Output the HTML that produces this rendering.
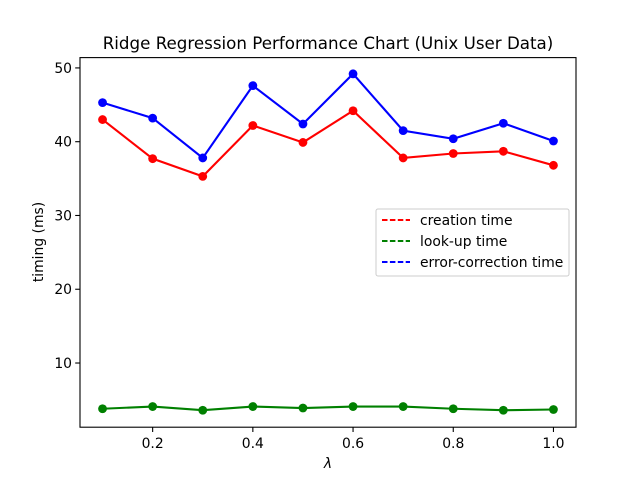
<!DOCTYPE html>
<html><head><meta charset="utf-8"><style>
body{margin:0;background:#fff}
svg{display:block;font-family:"DejaVu Sans","Liberation Sans",sans-serif}
</style></head><body>
<svg id="chart" width="640" height="480" viewBox="0 0 640 480">
<rect width="640" height="480" fill="#fff"/>
<text x="328" y="49" text-anchor="middle" font-size="16.7">Ridge Regression Performance Chart (Unix User Data)</text>
<g id="marks"></g>
<rect x="80" y="57.6" width="496" height="369.6" fill="none" stroke="#000" stroke-width="1.1"/>
<g id="xticks"></g><g id="yticks"></g>
<text x="328" y="468" text-anchor="middle" font-size="13.9" font-style="italic">λ</text>
<text transform="translate(43,242) rotate(-90)" text-anchor="middle" font-size="13.9">timing (ms)</text>
<g>
<rect x="376" y="209" width="193" height="67" rx="2" fill="#fff" fill-opacity="0.8" stroke="#ccc" stroke-width="1"/>
<g><line x1="382" y1="220" x2="410" y2="220" stroke="red" stroke-width="2" stroke-dasharray="5.5,2.4"/><text x="420" y="225" font-size="13.9">creation time</text></g>
<g><line x1="382" y1="241" x2="410" y2="241" stroke="green" stroke-width="2" stroke-dasharray="5.5,2.4"/><text x="420" y="246" font-size="13.9">look-up time</text></g>
<g><line x1="382" y1="262" x2="410" y2="262" stroke="blue" stroke-width="2" stroke-dasharray="5.5,2.4"/><text x="420" y="267" font-size="13.9">error-correction time</text></g>
</g>
</svg>
<script>
const lambdas=[0.1,0.2,0.3,0.4,0.5,0.6,0.7,0.8,0.9,1.0];
const creation=[43.0,37.7,35.3,42.2,39.9,44.2,37.8,38.4,38.7,36.8];
const lookup=[3.8,4.1,3.6,4.1,3.9,4.1,4.1,3.8,3.6,3.7];
const errorCorr=[45.3,43.2,37.8,47.6,42.4,49.2,41.5,40.4,42.5,40.1];
const xTicks=[0.2,0.4,0.6,0.8,1.0];
const xTickLabels=["0.2","0.4","0.6","0.8","1.0"];
const yTicks=[10,20,30,40,50];
const yTickLabels=["10","20","30","40","50"];
const X0=0.055,X1=1.045,Y0=1.3,Y1=51.4;
const sx=v=>80+(v-X0)/(X1-X0)*496;
const sy=v=>427.2-(v-Y0)/(Y1-Y0)*369.6;
const NS="http://www.w3.org/2000/svg";
function mk(tag,attrs,parent){const e=document.createElementNS(NS,tag);for(const k in attrs)e.setAttribute(k,attrs[k]);parent.appendChild(e);return e;}
const marks=document.getElementById('marks');
[[creation,'red','creation'],[lookup,'green','lookup'],[errorCorr,'blue','error-correction']].forEach(([d,c,n])=>{
  const g=mk('g',{},marks);
  
  
  const pl=mk('polyline',{points:d.map((v,i)=>sx(lambdas[i])+','+sy(v)).join(' '),fill:'none',stroke:c,'stroke-width':2.1},g);
  
  
  d.forEach((v,i)=>{const p=mk('circle',{cx:sx(lambdas[i]),cy:sy(v),r:4.4,fill:c},g);
    
    });
});
const xt=document.getElementById('xticks');
xTicks.forEach((v,i)=>{const x=sx(v);
  const l=mk('line',{x1:x,y1:427.2,x2:x,y2:432,stroke:'#000','stroke-width':1.1},xt);
  
  
  const t=mk('text',{x:x,y:448,'text-anchor':'middle','font-size':13.9},xt);t.textContent=xTickLabels[i];
  
  });
const yt=document.getElementById('yticks');
yTicks.forEach((v,i)=>{const y=sy(v);
  const l=mk('line',{x1:75.2,y1:y,x2:80,y2:y,stroke:'#000','stroke-width':1.1},yt);
  
  
  const t=mk('text',{x:72,y:y+5,'text-anchor':'end','font-size':13.9},yt);t.textContent=yTickLabels[i];
  
  });
</script>
</body></html>
